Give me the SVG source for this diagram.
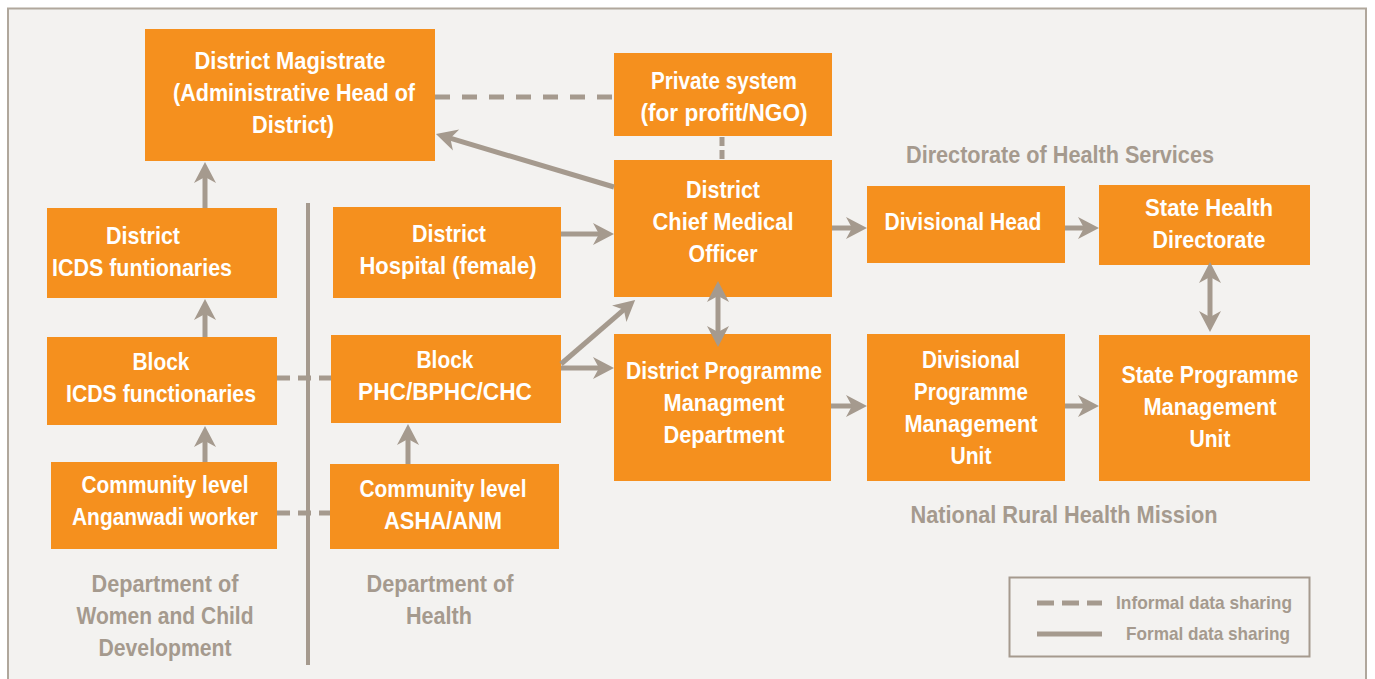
<svg xmlns="http://www.w3.org/2000/svg" width="1375" height="679" viewBox="0 0 1375 679">
<style>
.box{fill:#F5901E;}
.t{font-family:"Liberation Sans",Arial,sans-serif;font-weight:bold;font-size:24px;fill:#FFFFFF;text-anchor:middle;}
.g{font-family:"Liberation Sans",Arial,sans-serif;font-weight:bold;font-size:24px;fill:#A59A8E;text-anchor:middle;}
.lg{font-family:"Liberation Sans",Arial,sans-serif;font-weight:bold;font-size:19px;fill:#A59A8E;}
.c{stroke:#A59A8E;stroke-width:5;fill:none;}
.a{marker-end:url(#ah);}
.d2{marker-start:url(#ah);marker-end:url(#ah);}
</style>
<defs>
<marker id="ah" markerUnits="userSpaceOnUse" viewBox="-24 -12 26 24" markerWidth="26" markerHeight="24" refX="-6" refY="0" orient="auto-start-reverse">
<path d="M0,0 L-21,-11 L-15,0 L-21,11 Z" fill="#A59A8E"/>
</marker>
</defs>
<rect x="0" y="0" width="1375" height="679" fill="#FFFFFF"/>
<rect x="8" y="8.5" width="1358" height="700" fill="#F3F2F0" stroke="#B0A79C" stroke-width="2"/>
<line x1="308" y1="203" x2="308" y2="665" stroke="#A59A8E" stroke-width="4"/>

<g id="district-magistrate">
<rect class="box" x="145" y="29" width="290" height="132"/>
<text class="t" x="290" y="69" textLength="191" lengthAdjust="spacingAndGlyphs">District Magistrate</text>
<text class="t" x="294" y="101" textLength="242" lengthAdjust="spacingAndGlyphs">(Administrative Head of</text>
<text class="t" x="293" y="133" textLength="82" lengthAdjust="spacingAndGlyphs">District)</text>
</g>
<g id="private-system">
<rect class="box" x="614" y="53" width="218" height="83"/>
<text class="t" x="724" y="89" textLength="146" lengthAdjust="spacingAndGlyphs">Private system</text>
<text class="t" x="724" y="121" textLength="167" lengthAdjust="spacingAndGlyphs">(for profit/NGO)</text>
</g>
<g id="cmo">
<rect class="box" x="614" y="160" width="218" height="137"/>
<text class="t" x="723" y="198" textLength="74" lengthAdjust="spacingAndGlyphs">District</text>
<text class="t" x="723" y="230" textLength="141" lengthAdjust="spacingAndGlyphs">Chief Medical</text>
<text class="t" x="723" y="262" textLength="69" lengthAdjust="spacingAndGlyphs">Officer</text>
</g>
<g id="district-icds">
<rect class="box" x="47" y="208" width="230" height="90"/>
<text class="t" x="143" y="244" textLength="74" lengthAdjust="spacingAndGlyphs">District</text>
<text class="t" x="142" y="276" textLength="180" lengthAdjust="spacingAndGlyphs">ICDS funtionaries</text>
</g>
<g id="district-hospital">
<rect class="box" x="333" y="207" width="228" height="91"/>
<text class="t" x="449" y="242" textLength="74" lengthAdjust="spacingAndGlyphs">District</text>
<text class="t" x="448" y="274" textLength="177" lengthAdjust="spacingAndGlyphs">Hospital (female)</text>
</g>
<g id="block-icds">
<rect class="box" x="47" y="337" width="230" height="88"/>
<text class="t" x="161" y="370" textLength="57" lengthAdjust="spacingAndGlyphs">Block</text>
<text class="t" x="161" y="402" textLength="190" lengthAdjust="spacingAndGlyphs">ICDS functionaries</text>
</g>
<g id="block-phc">
<rect class="box" x="331" y="335" width="230" height="88"/>
<text class="t" x="445" y="368" textLength="57" lengthAdjust="spacingAndGlyphs">Block</text>
<text class="t" x="445" y="400" textLength="174" lengthAdjust="spacingAndGlyphs">PHC/BPHC/CHC</text>
</g>
<g id="anganwadi">
<rect class="box" x="51" y="462" width="226" height="87"/>
<text class="t" x="165" y="493" textLength="167" lengthAdjust="spacingAndGlyphs">Community level</text>
<text class="t" x="165" y="525" textLength="186" lengthAdjust="spacingAndGlyphs">Anganwadi worker</text>
</g>
<g id="asha">
<rect class="box" x="330" y="464" width="229" height="85"/>
<text class="t" x="443" y="497" textLength="167" lengthAdjust="spacingAndGlyphs">Community level</text>
<text class="t" x="443" y="529" textLength="118" lengthAdjust="spacingAndGlyphs">ASHA/ANM</text>
</g>
<g id="dpmd">
<rect class="box" x="614" y="334" width="217" height="147"/>
<text class="t" x="724" y="379" textLength="196" lengthAdjust="spacingAndGlyphs">District Programme</text>
<text class="t" x="724" y="411" textLength="121" lengthAdjust="spacingAndGlyphs">Managment</text>
<text class="t" x="724" y="443" textLength="121" lengthAdjust="spacingAndGlyphs">Department</text>
</g>
<g id="divisional-head">
<rect class="box" x="867" y="186" width="198" height="77"/>
<text class="t" x="963" y="230" textLength="157" lengthAdjust="spacingAndGlyphs">Divisional Head</text>
</g>
<g id="state-health-directorate">
<rect class="box" x="1099" y="185" width="211" height="80"/>
<text class="t" x="1209" y="216" textLength="128" lengthAdjust="spacingAndGlyphs">State Health</text>
<text class="t" x="1209" y="248" textLength="113" lengthAdjust="spacingAndGlyphs">Directorate</text>
</g>
<g id="divisional-pmu">
<rect class="box" x="867" y="334" width="198" height="147"/>
<text class="t" x="971" y="368" textLength="98" lengthAdjust="spacingAndGlyphs">Divisional</text>
<text class="t" x="971" y="400" textLength="114" lengthAdjust="spacingAndGlyphs">Programme</text>
<text class="t" x="971" y="432" textLength="133" lengthAdjust="spacingAndGlyphs">Management</text>
<text class="t" x="971" y="464" textLength="41" lengthAdjust="spacingAndGlyphs">Unit</text>
</g>
<g id="state-pmu">
<rect class="box" x="1099" y="335" width="211" height="146"/>
<text class="t" x="1210" y="383" textLength="177" lengthAdjust="spacingAndGlyphs">State Programme</text>
<text class="t" x="1210" y="415" textLength="133" lengthAdjust="spacingAndGlyphs">Management</text>
<text class="t" x="1210" y="447" textLength="41" lengthAdjust="spacingAndGlyphs">Unit</text>
</g>

<g id="connectors">
<line class="c" x1="435" y1="97" x2="614" y2="97" stroke-dasharray="15 12"/>
<line class="c" x1="722" y1="137" x2="722" y2="160" stroke-dasharray="9 4"/>
<line class="c" x1="277" y1="378" x2="331" y2="378" stroke-dasharray="13 8"/>
<line class="c" x1="277" y1="513" x2="330" y2="513" stroke-dasharray="13 8"/>
<line class="c a" x1="614" y1="187" x2="441.7" y2="135.7"/>
<line class="c a" x1="205" y1="208" x2="205" y2="168"/>
<line class="c a" x1="205" y1="337" x2="205" y2="305"/>
<line class="c a" x1="205" y1="462" x2="205" y2="432"/>
<line class="c a" x1="408" y1="464" x2="408" y2="430"/>
<line class="c a" x1="561" y1="234" x2="608" y2="234"/>
<line class="c a" x1="561" y1="364" x2="630.6" y2="303.9"/>
<line class="c a" x1="561" y1="368" x2="608" y2="368"/>
<line class="c d2" x1="718" y1="287" x2="718" y2="341"/>
<line class="c a" x1="832" y1="228" x2="861" y2="228"/>
<line class="c a" x1="1065" y1="228" x2="1093" y2="228"/>
<line class="c d2" x1="1210" y1="268" x2="1210" y2="326"/>
<line class="c a" x1="831" y1="406" x2="861" y2="406"/>
<line class="c a" x1="1065" y1="406" x2="1093" y2="406"/>
</g>

<g id="labels">
<text class="g" x="1060" y="163" textLength="308" lengthAdjust="spacingAndGlyphs">Directorate of Health Services</text>
<text class="g" x="1064" y="523" textLength="307" lengthAdjust="spacingAndGlyphs">National Rural Health Mission</text>
<text class="g" x="165" y="592" textLength="147" lengthAdjust="spacingAndGlyphs">Department of</text>
<text class="g" x="165" y="624" textLength="177" lengthAdjust="spacingAndGlyphs">Women and Child</text>
<text class="g" x="165" y="656" textLength="133" lengthAdjust="spacingAndGlyphs">Development</text>
<text class="g" x="440" y="592" textLength="147" lengthAdjust="spacingAndGlyphs">Department of</text>
<text class="g" x="439" y="624" textLength="66" lengthAdjust="spacingAndGlyphs">Health</text>
</g>

<g id="legend">
<rect x="1009.5" y="577.5" width="300" height="79" fill="none" stroke="#A59A8E" stroke-width="2"/>
<line class="c" x1="1037" y1="603" x2="1102" y2="603" stroke-dasharray="17 8"/>
<line class="c" x1="1037" y1="634" x2="1102" y2="634"/>
<text class="lg" x="1116" y="609" textLength="176" lengthAdjust="spacingAndGlyphs">Informal data sharing</text>
<text class="lg" x="1126" y="640" textLength="164" lengthAdjust="spacingAndGlyphs">Formal data sharing</text>
</g>
</svg>
